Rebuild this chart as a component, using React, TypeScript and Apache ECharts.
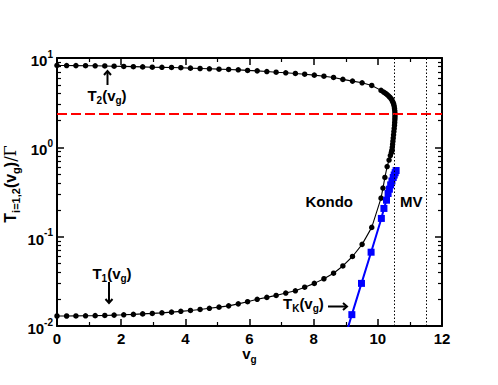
import React, { useEffect, useRef } from 'react';
import * as echarts from 'echarts';

const FONT = '"Liberation Sans", Arial, Helvetica, sans-serif';

// T1(vg): lower branch (black dots)
const t1X = [0, 0.3, 0.59, 0.89, 1.19, 1.49, 1.78, 2.08, 2.38, 2.67, 2.97, 3.27, 3.57, 3.86, 4.16, 4.46, 4.75, 5.05, 5.35, 5.65, 5.94, 6.24, 6.54, 6.83, 7.13, 7.43, 7.72, 8.02, 8.32, 8.62, 8.91, 9.21, 9.51, 9.81, 10.1, 10.16, 10.22, 10.29, 10.35, 10.39, 10.42, 10.44];
const t1Y = [0.01294, 0.01294, 0.01297, 0.013, 0.01306, 0.01313, 0.01324, 0.01334, 0.01349, 0.01366, 0.01383, 0.01404, 0.01429, 0.01459, 0.01493, 0.01532, 0.01577, 0.01626, 0.0168, 0.0177, 0.0187, 0.0199, 0.0209, 0.022, 0.0234, 0.0248, 0.0272, 0.03, 0.0338, 0.039, 0.047, 0.06, 0.082, 0.127, 0.27, 0.35, 0.46, 0.61, 0.72, 0.81, 0.87, 0.91];

// T2(vg): upper branch (black dots)
const t2X = [0, 0.3, 0.59, 0.89, 1.19, 1.49, 1.78, 2.08, 2.38, 2.67, 2.97, 3.27, 3.57, 3.86, 4.16, 4.46, 4.75, 5.05, 5.35, 5.65, 5.94, 6.24, 6.54, 6.83, 7.13, 7.43, 7.72, 8.02, 8.32, 8.62, 8.91, 9.21, 9.51, 9.81, 10.1, 10.18, 10.24, 10.29, 10.34, 10.38, 10.42, 10.45, 10.475, 10.495, 10.51, 10.52, 10.528, 10.532, 10.534, 10.533, 10.53, 10.525, 10.52, 10.51, 10.5, 10.49, 10.48, 10.47, 10.46, 10.45, 10.44];
const t2Y = [8.25, 8.24, 8.22, 8.2, 8.18, 8.15, 8.1, 8.05, 8.0, 7.95, 7.89, 7.86, 7.83, 7.78, 7.7, 7.63, 7.57, 7.5, 7.44, 7.37, 7.26, 7.18, 7.06, 6.93, 6.83, 6.71, 6.59, 6.43, 6.26, 6.06, 5.76, 5.51, 5.28, 4.93, 4.34, 4.15, 4.02, 3.9, 3.75, 3.62, 3.48, 3.32, 3.18, 3.04, 2.88, 2.72, 2.56, 2.42, 2.28, 2.16, 2.04, 1.9, 1.77, 1.63, 1.5, 1.38, 1.27, 1.17, 1.08, 1.0, 0.93];

// TK(vg): Kondo temperature (blue squares)
const tkX = [8.9, 9.19, 9.49, 9.79, 10.11, 10.19, 10.27, 10.32, 10.36, 10.4, 10.44, 10.48, 10.51, 10.54, 10.57];
const tkY = [0.006, 0.0134, 0.03, 0.067, 0.16, 0.207, 0.256, 0.304, 0.34, 0.38, 0.42, 0.46, 0.49, 0.52, 0.55];

const xRange = [0, 12];
const xStep = 2;
const yDecades = [0.01, 0.1, 1, 10];
const yMinor = [0.02, 0.03, 0.04, 0.05, 0.06, 0.07, 0.08, 0.09, 0.2, 0.3, 0.4, 0.5, 0.6, 0.7, 0.8, 0.9, 2, 3, 4, 5, 6, 7, 8, 9];
const redLevel = 2.35;
const regimeBounds = [10.5, 11.5];

const pairs = (xs: number[], ys: number[]) => xs.map((x, i) => [x, ys[i]]);

const makeSubRich = (main: number, sub: number): any => ({
  t: { fontFamily: FONT, fontWeight: 'bold', fontSize: main, color: '#000', lineHeight: main + 6 },
  sub: { fontFamily: FONT, fontWeight: 'bold', fontSize: sub, color: '#000', lineHeight: sub, verticalAlign: 'bottom' },
  g: { fontFamily: '"DejaVu Serif", "Liberation Serif", serif', fontSize: main, color: '#000', lineHeight: main + 6 },
});

export default function App() {
  const ref = useRef<HTMLDivElement>(null);

  useEffect(() => {
    const chart = echarts.init(ref.current!, null, { renderer: 'svg' });

    const axisLine = { show: true, lineStyle: { color: '#000', width: 2 } };
    const majorTick = { show: true, inside: true, length: 7, lineStyle: { color: '#000', width: 1.5 } };
    const minorTickStyle = { color: '#000', width: 1.2 };

    const subRich = makeSubRich(15, 10);
    const nameRich = makeSubRich(16, 11);
    const supRich: any = {
      b: { fontFamily: FONT, fontWeight: 'bold', fontSize: 15, color: '#000', lineHeight: 23 },
      s: { fontFamily: FONT, fontWeight: 'bold', fontSize: 10, color: '#000', lineHeight: 10, verticalAlign: 'top' },
    };

    const xBase: any = {
      type: 'value',
      min: xRange[0],
      max: xRange[1],
      interval: xStep,
      axisLine,
      axisTick: majorTick,
      minorTick: { show: true, splitNumber: 2, length: 4, lineStyle: minorTickStyle },
      splitLine: { show: false },
      minorSplitLine: { show: false },
    };

    const yBase: any = {
      type: 'log',
      logBase: 10,
      min: yDecades[0],
      max: yDecades[yDecades.length - 1],
      splitLine: { show: false },
      minorSplitLine: { show: false },
    };

    const option: any = {
      animation: false,
      backgroundColor: '#fff',
      grid: { left: 57, right: 56, top: 58, bottom: 59, containLabel: false, outerBoundsMode: 'none' },
      xAxis: [
        {
          ...xBase,
          position: 'bottom',
          axisLabel: { show: true, fontFamily: FONT, fontWeight: 'bold', fontSize: 15, color: '#000', margin: 5 },
          name: '{t|v}{sub|g}',
          nameLocation: 'middle',
          nameGap: 17,
          nameMoveOverlap: false,
          nameTextStyle: { rich: subRich },
        },
        {
          ...xBase,
          position: 'top',
          axisLabel: { show: false },
        },
      ],
      yAxis: [
        {
          ...yBase,
          position: 'left',
          axisLine,
          axisTick: { ...majorTick, customValues: yDecades },
          axisLabel: {
            show: true,
            customValues: yDecades,
            margin: 4,
            padding: [5, 0, 0, 0],
            formatter: (v: number) => `{b|10}{s|${Math.round(Math.log10(v))}}`,
            rich: supRich,
          },
        },
        {
          ...yBase,
          position: 'left',
          axisLine: { show: false },
          axisLabel: { show: false },
          axisTick: { show: true, inside: true, length: 4, lineStyle: minorTickStyle, customValues: yMinor },
        },
        {
          ...yBase,
          position: 'right',
          axisLine,
          axisLabel: { show: false },
          axisTick: { ...majorTick, customValues: yDecades },
        },
        {
          ...yBase,
          position: 'right',
          axisLine: { show: false },
          axisLabel: { show: false },
          axisTick: { show: true, inside: true, length: 4, lineStyle: minorTickStyle, customValues: yMinor },
        },
      ],
      series: [
        {
          type: 'line',
          name: 'T1',
          xAxisIndex: 0,
          yAxisIndex: 0,
          data: pairs(t1X, t1Y),
          symbol: 'circle',
          symbolSize: 5.5,
          itemStyle: { color: '#000' },
          lineStyle: { color: '#000', width: 1.1 },
          z: 3,
          markLine: {
            silent: true,
            symbol: ['none', 'none'],
            label: { show: false },
            data: [
              { yAxis: redLevel, lineStyle: { color: '#ff0000', width: 2, type: [10, 4] } },
              ...regimeBounds.map((b) => ({ xAxis: b, lineStyle: { color: '#000', width: 1, type: [1.5, 2] } })),
            ],
          },
        },
        {
          type: 'line',
          name: 'T2',
          xAxisIndex: 0,
          yAxisIndex: 0,
          data: pairs(t2X, t2Y),
          symbol: 'circle',
          symbolSize: 5.5,
          itemStyle: { color: '#000' },
          lineStyle: { color: '#000', width: 1.1 },
          z: 3,
        },
        {
          type: 'line',
          name: 'TK',
          xAxisIndex: 0,
          yAxisIndex: 0,
          data: pairs(tkX, tkY).map((p, i) => (i === 0 ? { value: p, symbol: 'none' } : p)),
          symbol: 'rect',
          symbolSize: 7,
          itemStyle: { color: '#0000ff' },
          lineStyle: { color: '#0000ff', width: 2 },
          z: 4,
        },
      ],
      graphic: [
        {
          type: 'text',
          x: 10,
          y: 184,
          rotation: Math.PI / 2,
          style: { text: '{t|T}{sub|i=1,2}{t|(v}{sub|g}{t|)}{g|/Γ}', rich: nameRich, align: 'center', verticalAlign: 'middle' },
        },

        { type: 'text', x: 107, y: 95, style: { text: '{t|T}{sub|2}{t|(v}{sub|g}{t|)}', rich: subRich, align: 'center', verticalAlign: 'middle' } },
        { type: 'line', shape: { x1: 107.5, y1: 85, x2: 107.5, y2: 71 }, style: { stroke: '#000', lineWidth: 2 } },
        { type: 'polyline', shape: { points: [[104, 75], [107.5, 71], [111, 75]] }, style: { stroke: '#000', lineWidth: 2, fill: null } },

        { type: 'text', x: 112, y: 273, style: { text: '{t|T}{sub|1}{t|(v}{sub|g}{t|)}', rich: subRich, align: 'center', verticalAlign: 'middle' } },
        { type: 'line', shape: { x1: 109, y1: 282, x2: 109, y2: 303 }, style: { stroke: '#000', lineWidth: 2 } },
        { type: 'polyline', shape: { points: [[105.5, 299], [109, 303], [112.5, 299]] }, style: { stroke: '#000', lineWidth: 2, fill: null } },

        { type: 'text', x: 283, y: 303, style: { text: '{t|T}{sub|K}{t|(v}{sub|g}{t|)}', rich: subRich, align: 'left', verticalAlign: 'middle' } },
        { type: 'line', shape: { x1: 328, y1: 306.5, x2: 347, y2: 306.5 }, style: { stroke: '#000', lineWidth: 2 } },
        { type: 'polyline', shape: { points: [[343, 303], [347, 306.5], [343, 310]] }, style: { stroke: '#000', lineWidth: 2, fill: null } },

        { type: 'text', x: 353, y: 201, style: { text: 'Kondo', fontFamily: FONT, fontWeight: 'bold', fontSize: 15, fill: '#000', align: 'right', verticalAlign: 'middle' } },
        { type: 'text', x: 400, y: 201, style: { text: 'MV', fontFamily: FONT, fontWeight: 'bold', fontSize: 15, fill: '#000', align: 'left', verticalAlign: 'middle' } },
      ],
    };

    chart.setOption(option);
    return () => chart.dispose();
  }, []);

  return <div ref={ref} style={{ position: 'fixed', left: 0, top: 0, width: 498, height: 385 }} />;
}
